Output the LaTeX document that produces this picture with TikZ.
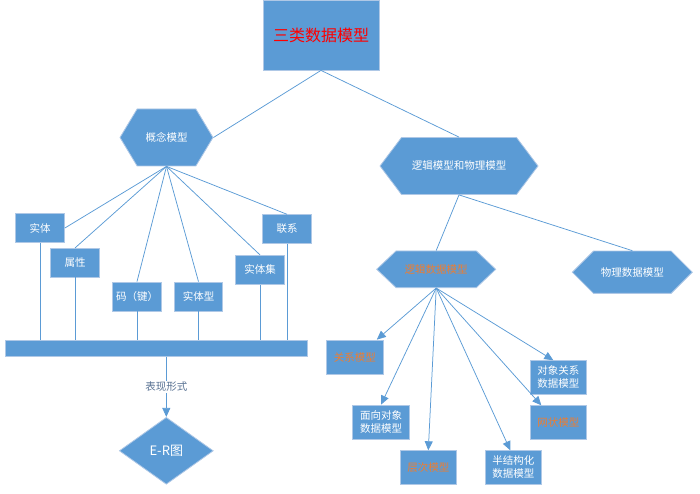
\documentclass[tikz,border=0pt]{standalone}
\usepackage{fontspec}
\setmainfont{Noto Sans CJK SC}
\usetikzlibrary{shapes.geometric,shapes.symbols,arrows.meta}

\definecolor{boxblue}{HTML}{5B9BD5}
\definecolor{boxline}{HTML}{AFC8E6}
\definecolor{linkblue}{HTML}{5B9BD5}
\definecolor{orangetxt}{HTML}{ED7D31}
\definecolor{labelgray}{HTML}{5A7394}

\begin{document}
\begin{tikzpicture}[x=1pt,y=-1pt]
% Define common styles
\tikzset{
    box/.style={draw=boxline, line width=0.8pt, fill=boxblue, text=white, inner sep=1pt, align=center, font=\fontsize{10.5}{13}\selectfont},
    hexa/.style={box, signal, signal to=east and west},
    link/.style={draw=linkblue, line width=0.75pt},
    arrow/.style={link, -{Triangle[length=9pt,width=8pt]}},
    hltext/.style={text=orangetxt}
}
\useasboundingbox (0,0) rectangle (700,494);

% Top
\node[box, minimum width=116, minimum height=70, text=red, font=\fontsize{16}{19}\selectfont] (title) at (321,35) {三类数据模型};

\node[hexa, minimum width=93, minimum height=57, signal pointer angle=118] (concept) at (166.5,137.5) {概念模型};
\node[hexa, minimum width=158, minimum height=57, signal pointer angle=106] (logphys) at (459,166) {逻辑模型和物理模型};

\draw[link] (title.south) -- (concept.east);
\draw[link] (title.south) -- (logphys.north);

% Conceptual model (left side)
\node[box, minimum width=49, minimum height=28.5] (entity) at (40,228) {实体};
\node[box, minimum width=48.6, minimum height=28.7] (attribute) at (75,262.7) {属性};
\node[box, minimum width=48.6, minimum height=29] (key) at (137,296.5) {码（键）};
\node[box, minimum width=48.4, minimum height=29] (etype) at (198.5,296.5) {实体型};
\node[box, minimum width=48.6, minimum height=29] (eset) at (260,269.8) {实体集};
\node[box, minimum width=49, minimum height=28.6] (relation) at (287,229) {联系};

\draw[link] (concept.south) -- (entity.east);
\draw[link] (concept.south) -- (attribute.north);
\draw[link] (concept.south) -- (key.north);
\draw[link] (concept.south) -- (etype.north);
\draw[link] (concept.south) -- (eset.north);
\draw[link] (concept.south) -- (relation.north);

\node[box, minimum width=301.6, minimum height=15.3] (bar) at (156.5,348.5) {};
\foreach \n in {entity,attribute,key,etype,eset,relation}
    \draw[link] (\n.south) -- (\n.south |- bar.north);

\node[box, diamond, inner sep=0pt, minimum width=94, minimum height=67, font=\fontsize{13}{15}\selectfont] (er) at (166.3,450.8) {E-R图};
\draw[arrow] (bar.south -| er.north) -- node[fill=white, inner sep=1pt, text=labelgray, font=\fontsize{10.5}{13}\selectfont] (form) {表现形式} (er.north);

% Logical and physical models (right side)
\node[hexa, hltext, minimum width=119, minimum height=36.7, signal pointer angle=87] (logical) at (436.2,269.3) {逻辑数据模型};
\node[hexa, minimum width=120, minimum height=42.3, signal pointer angle=90] (physical) at (632.3,272.2) {物理数据模型};

\draw[link] (logphys.south) -- (logical.north);
\draw[link] (logphys.south) -- (physical.north);

\node[box, hltext, minimum width=56.3, minimum height=34.3] (relmodel) at (354.8,357.2) {关系模型};
\node[box, minimum width=56.6, minimum height=34.3] (oomodel) at (381,422.2) {面向对象\\数据模型};
\node[box, hltext, minimum width=56.7, minimum height=33.6] (hiermodel) at (428.3,467.5) {层次模型};
\node[box, minimum width=56.7, minimum height=33.6] (semimodel) at (513.3,467.5) {半结构化\\数据模型};
\node[box, hltext, minimum width=56.7, minimum height=33.6] (netmodel) at (558.3,422.5) {网状模型};
\node[box, minimum width=56.7, minimum height=33.3] (ormodel) at (558.3,377.3) {对象关系\\数据模型};

\draw[arrow] (logical.south) -- ([xshift=22]relmodel.north);
\draw[arrow] (logical.south) -- (oomodel.north);
\draw[arrow] (logical.south) -- (hiermodel.north);
\draw[arrow] (logical.south) -- ([xshift=-3]semimodel.north);
\draw[arrow] (logical.south) -- ([xshift=-17]netmodel.north);
\draw[arrow] (logical.south) -- ([xshift=-5]ormodel.north);

\end{tikzpicture}
\end{document}
